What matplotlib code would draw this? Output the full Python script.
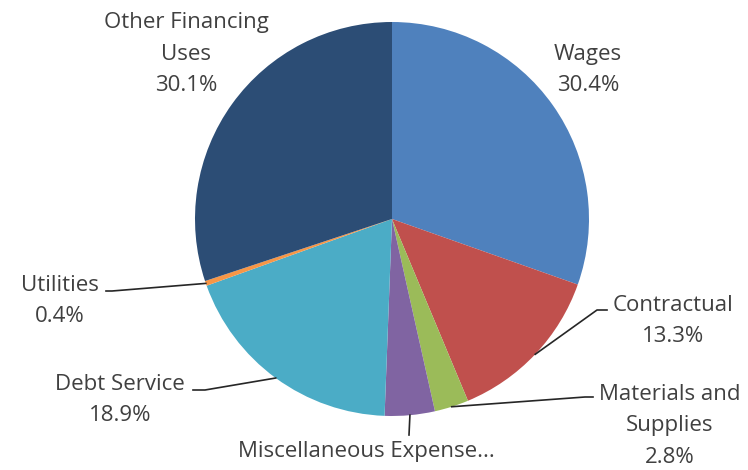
import matplotlib.pyplot as plt
import numpy as np

# expenditure shares (%)
categories = ['Wages', 'Contractual', 'Materials and Supplies', 'Miscellaneous Expense',
              'Debt Service', 'Utilities', 'Other Financing Uses']
shares = [30.4, 13.3, 2.8, 4.1, 18.9, 0.4, 30.1]
label_text = ['Wages\n30.4%', 'Contractual\n13.3%', 'Materials and\nSupplies\n2.8%',
              'Miscellaneous Expense...', 'Debt Service\n18.9%', 'Utilities\n0.4%',
              'Other Financing\nUses\n30.1%']
colors = ['#4F81BD', '#C0504D', '#9BBB59', '#8064A2', '#4BACC6', '#F79646', '#2C4D75']

W, H = 748, 470
fig = plt.figure(figsize=(W / 100, H / 100), dpi=100)
ax = fig.add_axes([0, 0, 1, 1])
ax.axis('off')

cx, cy, R = 392, H - 219, 197
wedges, _ = ax.pie(shares, colors=colors, startangle=90, counterclock=False,
                   center=(cx, cy), radius=R, wedgeprops=dict(linewidth=0))
ax.set_xlim(0, W)
ax.set_ylim(0, H)
ax.set_aspect('equal')

# label centre and leader path (elbow points), top-down pixel coords
label_pos = [(588, 70), (673, 321), (670, 426), (366, 452), (120, 400), (60, 301), (186, 54)]
elbows = [None, [(597, 310), (607, 310)], [(585, 397), (593, 397)], [(409, 435)],
          [(205, 390), (193, 390)], [(112, 291), (106, 291)], None]

for w, txt, (lx, ly), path in zip(wedges, label_text, label_pos, elbows):
    ax.text(lx, H - ly, txt, ha='center', va='center', fontsize=16,
            color='#404040', linespacing=1.68, family='Open Sans')
    if path is None:
        continue
    ang = np.deg2rad((w.theta1 + w.theta2) / 2)
    xs = [cx + R * np.cos(ang)] + [p[0] for p in path]
    ys = [cy + R * np.sin(ang)] + [H - p[1] for p in path]
    ax.plot(xs, ys, color='#262626', lw=1.2)

fig.savefig('out.png', dpi=100)
